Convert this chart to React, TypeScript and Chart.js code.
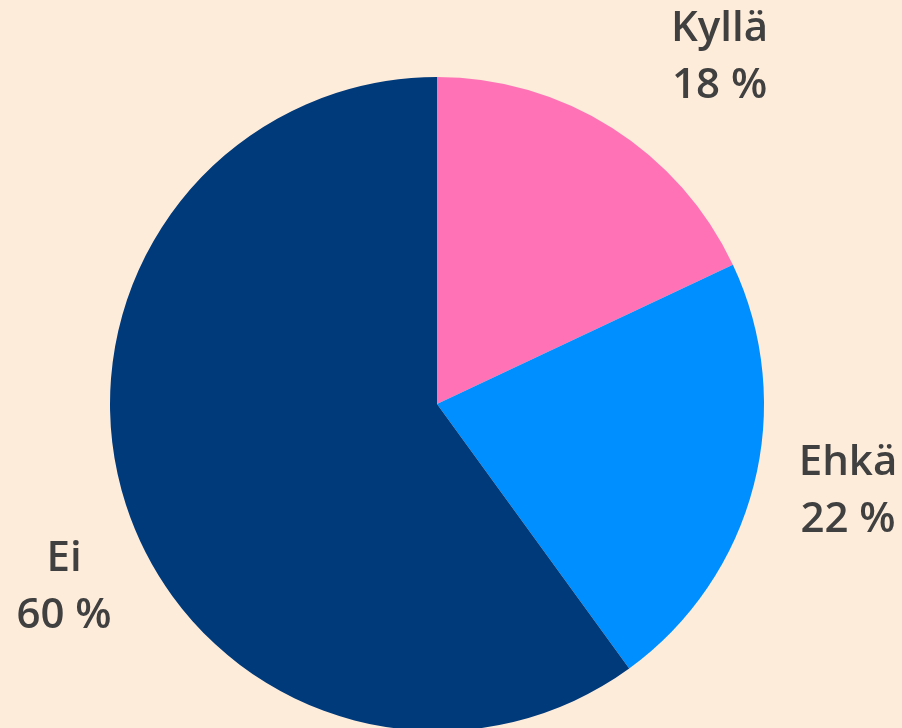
import React, { useEffect, useRef } from "react";
import { Chart, registerables } from "chart.js";

Chart.register(...registerables);

const categories = ["Kyllä", "Ehkä", "Ei"];
const values = [18, 22, 60];
const valueLabels = ["18 %", "22 %", "60 %"];
const colors = ["#FF73B6", "#008FFF", "#003A7A"];

const BG = "#FEECDA";

const outsideLabels = {
  id: "outsideLabels",
  afterDatasetsDraw(chart: any, _args: any, opts: any) {
    const ctx = chart.ctx;
    const meta = chart.getDatasetMeta(0);
    ctx.save();
    ctx.fillStyle = opts.color;
    ctx.font = opts.font;
    ctx.textAlign = "center";
    ctx.textBaseline = "middle";
    meta.data.forEach((arc: any, i: number) => {
      const p = opts.placement[i];
      const r = arc.outerRadius * p.dist;
      const a = (p.angle * Math.PI) / 180;
      const x = arc.x + r * Math.sin(a);
      const y = arc.y - r * Math.cos(a) + opts.yShift;
      ctx.fillText(categories[i], x, y - opts.lineGap / 2);
      ctx.fillText(valueLabels[i], x, y + opts.lineGap / 2);
    });
    ctx.restore();
  },
};

export default function App() {
  const ref = useRef<HTMLCanvasElement | null>(null);
  useEffect(() => {
    document.body.style.margin = "0";
    document.body.style.overflow = "hidden";
    document.body.style.background = BG;
    const chart = new Chart(ref.current as HTMLCanvasElement, {
      type: "pie",
      data: {
        labels: categories,
        datasets: [
          {
            data: values,
            backgroundColor: colors,
            borderWidth: 0,
          },
        ],
      },
      options: {
        animation: false,
        responsive: false,
        maintainAspectRatio: false,
        layout: { padding: { left: 110, right: 138, top: 77, bottom: 9 } },
        plugins: {
          legend: { display: false },
          tooltip: { enabled: false },
          outsideLabels: {
            color: "#404040",
            font: "600 42px 'Open Sans', 'Noto Sans', sans-serif",
            lineGap: 57,
            yShift: 2,
            placement: [
              { angle: 39, dist: 1.373 },
              { angle: 101.8, dist: 1.284 },
              { angle: 244, dist: 1.269 },
            ],
          },
        } as any,
      },
      plugins: [outsideLabels],
    });
    return () => chart.destroy();
  }, []);
  return (
    <div style={{ width: 902, height: 740, background: BG }}>
      <canvas ref={ref} width={902} height={740} style={{ display: "block" }} />
    </div>
  );
}
